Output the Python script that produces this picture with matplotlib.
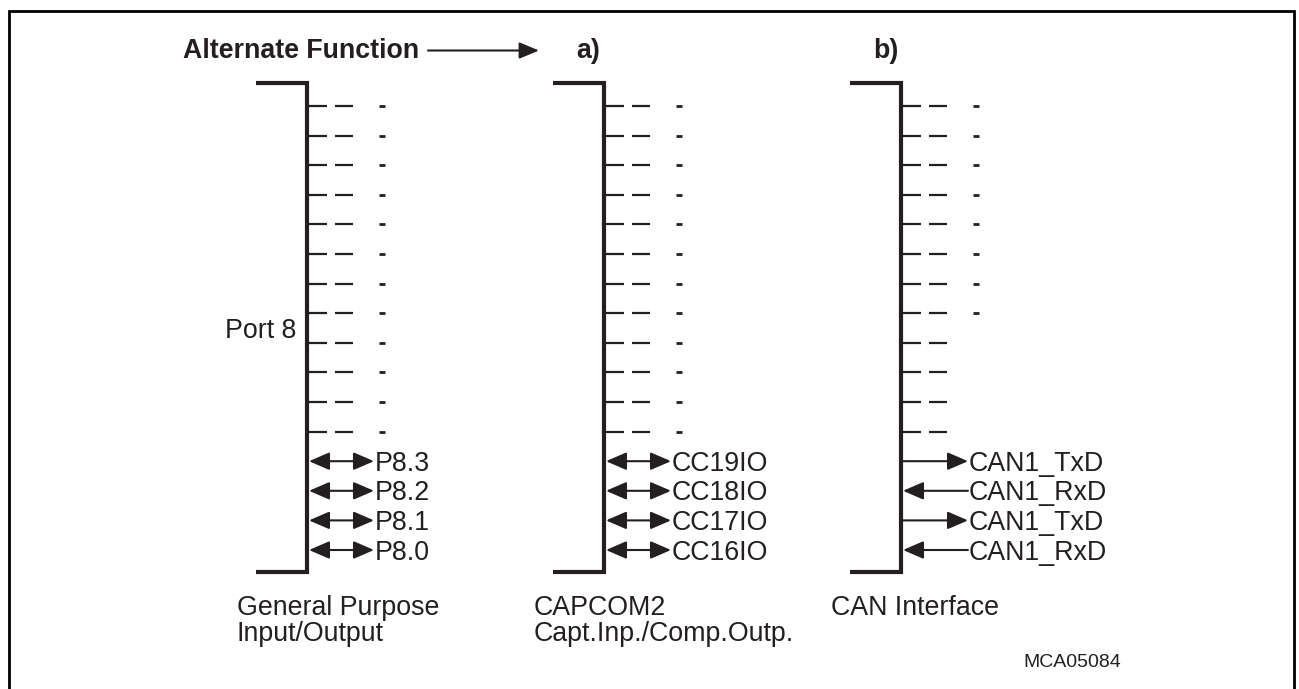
import matplotlib
matplotlib.use("Agg")
import matplotlib.pyplot as plt
from matplotlib.patches import FancyArrowPatch, ArrowStyle

plt.rcParams['font.family'] = ['Liberation Sans', 'DejaVu Sans']

# ---- content ----
column_titles = [["General Purpose", "Input/Output"],
                 ["CAPCOM2", "Capt.Inp./Comp.Outp."],
                 ["CAN Interface"]]
column_headers = ["", "a)", "b)"]
header_text = "Alternate Function"
port_label = "Port 8"
pins_gpio = ["P8.3", "P8.2", "P8.1", "P8.0"]
pins_capcom = ["CC19IO", "CC18IO", "CC17IO", "CC16IO"]
pins_can = ["CAN1_TxD", "CAN1_RxD", "CAN1_TxD", "CAN1_RxD"]
dirs_gpio = ["both", "both", "both", "both"]
dirs_capcom = ["both", "both", "both", "both"]
dirs_can = ["out", "in", "out", "in"]
unused_rows = 12
unused_marked = [12, 12, 8]   # rows showing the "-" marker
figure_id = "MCA05084"

pins = [pins_gpio, pins_capcom, pins_can]
dirs = [dirs_gpio, dirs_capcom, dirs_can]

# ---- layout (pixel space) ----
W, H = 1299, 689
fig = plt.figure(figsize=(W / 100, H / 100), dpi=100)
ax = fig.add_axes([0, 0, 1, 1])
ax.set_xlim(0, W)
ax.set_ylim(H, 0)
ax.axis('off')

INK = '#231f20'
FS = 19.3
col_x = [307, 604, 901]
row_y0, row_dy = 106, 29.6
top_y, bot_y = 83, 572

# frame
ax.plot([9, 9, 1294, 1294], [H + 5, 11, 11, H + 5], color='black', lw=2.0,
        solid_joinstyle='miter')


def arrow(x0, x1, y, style, hl=12.5, hw=5.4):
    st = ArrowStyle(style, head_length=hl, head_width=hw)
    p = FancyArrowPatch((x0, y), (x1, y), arrowstyle=st, mutation_scale=1,
                        shrinkA=0, shrinkB=0, color=INK, lw=1.5)
    ax.add_patch(p)


# header
ax.text(183, 58, header_text, fontsize=FS, fontweight='bold', ha='left',
        va='baseline', color=INK)
arrow(428, 539, 50.5, '-|>', hl=12.0, hw=5.0)
for cx, h in zip(col_x, column_headers):
    if h:
        ax.text(cx - 28, 58, h, fontsize=FS, fontweight='bold', ha='left',
                va='baseline', color=INK)

for ci, cx in enumerate(col_x):
    # bracket
    ax.plot([cx - 51, cx, cx, cx - 51], [top_y, top_y, bot_y, bot_y],
            color=INK, lw=3.0, solid_joinstyle='miter',
            solid_capstyle='butt')
    # unused rows
    for r in range(unused_rows):
        y = row_y0 + r * row_dy
        ax.plot([cx + 2, cx + 20], [y, y], color=INK, lw=1.6,
                solid_capstyle='butt')
        ax.plot([cx + 28, cx + 46], [y, y], color=INK, lw=1.6,
                solid_capstyle='butt')
        if r < unused_marked[ci]:
            ax.plot([cx + 72, cx + 78], [y, y], color=INK, lw=2.0,
                    solid_capstyle='butt')
    # pins
    for k, (lab, d) in enumerate(zip(pins[ci], dirs[ci])):
        y = row_y0 + (unused_rows + k) * row_dy
        style = {'both': '<|-|>', 'out': '-|>', 'in': '<|-'}[d]
        arrow(cx + 2, cx + 67, y, style)
        ax.text(cx + 68, y + 9.6, lab, fontsize=FS, ha='left', va='baseline',
                color=INK)
    # bottom labels
    for li, line in enumerate(column_titles[ci]):
        ax.text(cx - 70, 615 + li * 26, line, fontsize=FS, ha='left',
                va='baseline', color=INK)

ax.text(296, 337.5, port_label, fontsize=FS, ha='right', va='baseline',
        color=INK)
ax.text(1023, 667, figure_id, fontsize=14, ha='left', va='baseline',
        color=INK)

fig.savefig('out.png', dpi=100, facecolor='white')
